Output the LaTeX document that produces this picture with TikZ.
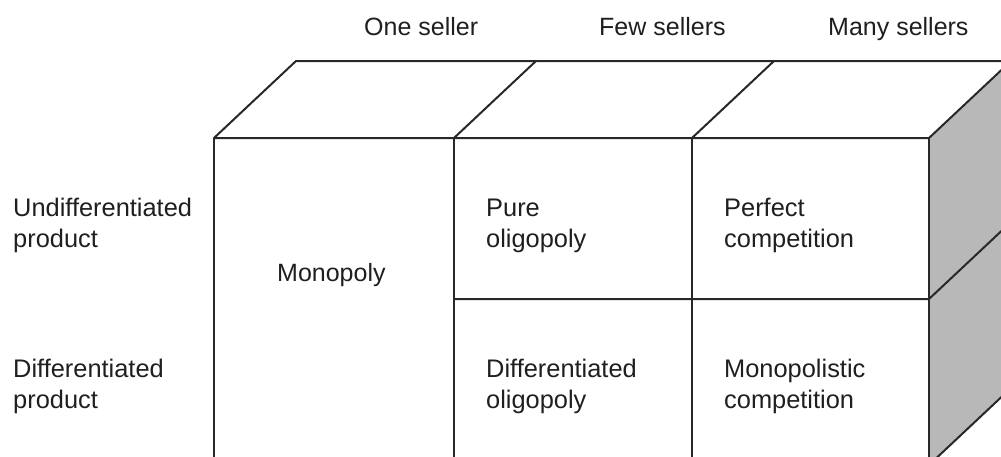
\documentclass[tikz,border=0pt]{standalone}
\usepackage{fontspec}
\setmainfont{Liberation Sans}
\definecolor{sidegray}{RGB}{184,184,184}
\definecolor{edge}{RGB}{40,40,40}
\begin{document}
\begin{tikzpicture}[x=1pt,y=-1pt,
  edgeline/.style={draw=edge,line width=2pt,line join=round},
  lbl/.style={anchor=base west,inner sep=0pt,align=left,
    font=\fontsize{25.4}{30.8}\selectfont,text=black!88},
  hdr/.style={anchor=base west,inner sep=0pt,
    font=\fontsize{25}{30}\selectfont,text=black!88}]
\useasboundingbox (0,0) rectangle (1001,456);
\clip (0,0) rectangle (1001,456);
% front face corners and column divisions
\coordinate (fA) at (214,138);
\coordinate (fB) at (454,138);
\coordinate (fC) at (692,138);
\coordinate (fD) at (929,138);
\coordinate (bA) at (296,61);
\coordinate (bB) at (536,61);
\coordinate (bC) at (774,61);
\coordinate (bD) at (1011,61);
\coordinate (fAb) at (214,465);
\coordinate (fBb) at (454,465);
\coordinate (fCb) at (692,465);
\coordinate (fDb) at (929,465);
\coordinate (bDb) at (1011,388);
\coordinate (mB) at (454,299);
\coordinate (mD) at (929,299);
\coordinate (mS) at (1011,222);
% shaded side face
\fill[sidegray] (fD) -- (bD) -- (bDb) -- (fDb) -- cycle;
% top face
\draw[edgeline] (fA) -- (bA) -- (bD) -- (fD) -- cycle;
\draw[edgeline] (fB) -- (bB);
\draw[edgeline] (fC) -- (bC);
% front face
\draw[edgeline] (fA) -- (fAb);
\draw[edgeline] (fB) -- (fBb);
\draw[edgeline] (fC) -- (fCb);
\draw[edgeline] (fD) -- (fDb);
\draw[edgeline] (mB) -- (mD) -- (mS);
\draw[edgeline] (fDb) -- (bDb);
% column headings
\node[hdr] (h1) at (364,35) {One seller};
\node[hdr] (h2) at (599,35) {Few sellers};
\node[hdr] (h3) at (828,35) {Many sellers};
% row headings (anchored at the baseline of the second line)
\node[lbl] (r1) at (13,247.5) {Undifferentiated\\product};
\node[lbl] (r2) at (13,408) {Differentiated\\product};
% cells
\node[hdr] (c0) at (277,281) {Monopoly};
\node[lbl] (c1) at (486,247.5) {Pure\\oligopoly};
\node[lbl] (c2) at (724,247.5) {Perfect\\competition};
\node[lbl] (c3) at (486,408) {Differentiated\\oligopoly};
\node[lbl] (c4) at (724,408) {Monopolistic\\competition};
\end{tikzpicture}
\end{document}
